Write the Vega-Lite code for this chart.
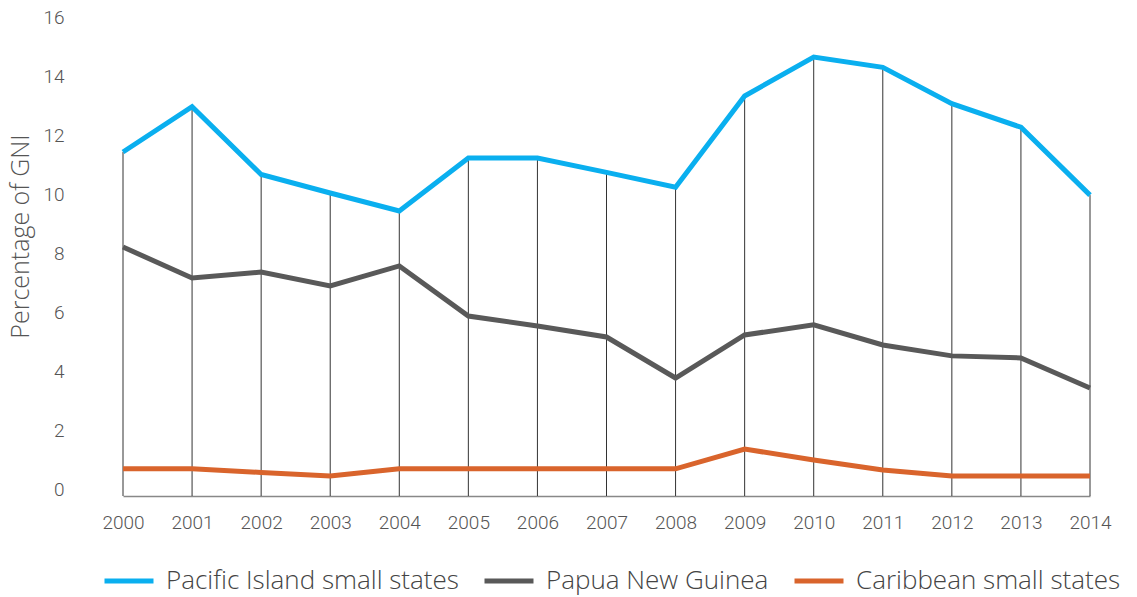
{
  "$schema": "https://vega.github.io/schema/vega-lite/v6.json",
  "width": 967,
  "height": 472,
  "autosize": {"type": "none"},
  "padding": {"left": 123, "top": 24, "right": 47, "bottom": 101},
  "background": "white",
  "config": {
    "view": {"stroke": null},
    "font": "Roboto",
    "axis": {"labelFont": "Roboto", "titleFont": "Open Sans", "labelColor": "#555555", "titleColor": "#555555", "labelFontWeight": 300, "titleFontWeight": 300},
    "legend": {"labelFont": "Open Sans", "labelColor": "#444444", "labelFontWeight": 300}
  },
  "data": {
    "values": [
      {"year": 2000, "series": "Pacific Island small states", "value": 11.66},
      {"year": 2001, "series": "Pacific Island small states", "value": 13.2},
      {"year": 2002, "series": "Pacific Island small states", "value": 10.9},
      {"year": 2003, "series": "Pacific Island small states", "value": 10.27},
      {"year": 2004, "series": "Pacific Island small states", "value": 9.66},
      {"year": 2005, "series": "Pacific Island small states", "value": 11.46},
      {"year": 2006, "series": "Pacific Island small states", "value": 11.46},
      {"year": 2007, "series": "Pacific Island small states", "value": 10.97},
      {"year": 2008, "series": "Pacific Island small states", "value": 10.47},
      {"year": 2009, "series": "Pacific Island small states", "value": 13.56},
      {"year": 2010, "series": "Pacific Island small states", "value": 14.88},
      {"year": 2011, "series": "Pacific Island small states", "value": 14.53},
      {"year": 2012, "series": "Pacific Island small states", "value": 13.3},
      {"year": 2013, "series": "Pacific Island small states", "value": 12.5},
      {"year": 2014, "series": "Pacific Island small states", "value": 10.2},
      {"year": 2000, "series": "Papua New Guinea", "value": 8.44},
      {"year": 2001, "series": "Papua New Guinea", "value": 7.39},
      {"year": 2002, "series": "Papua New Guinea", "value": 7.59},
      {"year": 2003, "series": "Papua New Guinea", "value": 7.12},
      {"year": 2004, "series": "Papua New Guinea", "value": 7.8},
      {"year": 2005, "series": "Papua New Guinea", "value": 6.1},
      {"year": 2006, "series": "Papua New Guinea", "value": 5.76},
      {"year": 2007, "series": "Papua New Guinea", "value": 5.39},
      {"year": 2008, "series": "Papua New Guinea", "value": 4.0},
      {"year": 2009, "series": "Papua New Guinea", "value": 5.46},
      {"year": 2010, "series": "Papua New Guinea", "value": 5.8},
      {"year": 2011, "series": "Papua New Guinea", "value": 5.12},
      {"year": 2012, "series": "Papua New Guinea", "value": 4.75},
      {"year": 2013, "series": "Papua New Guinea", "value": 4.68},
      {"year": 2014, "series": "Papua New Guinea", "value": 3.66},
      {"year": 2000, "series": "Caribbean small states", "value": 0.92},
      {"year": 2001, "series": "Caribbean small states", "value": 0.92},
      {"year": 2002, "series": "Caribbean small states", "value": 0.8},
      {"year": 2003, "series": "Caribbean small states", "value": 0.68},
      {"year": 2004, "series": "Caribbean small states", "value": 0.92},
      {"year": 2005, "series": "Caribbean small states", "value": 0.92},
      {"year": 2006, "series": "Caribbean small states", "value": 0.92},
      {"year": 2007, "series": "Caribbean small states", "value": 0.92},
      {"year": 2008, "series": "Caribbean small states", "value": 0.92},
      {"year": 2009, "series": "Caribbean small states", "value": 1.59},
      {"year": 2010, "series": "Caribbean small states", "value": 1.22},
      {"year": 2011, "series": "Caribbean small states", "value": 0.88},
      {"year": 2012, "series": "Caribbean small states", "value": 0.68},
      {"year": 2013, "series": "Caribbean small states", "value": 0.68},
      {"year": 2014, "series": "Caribbean small states", "value": 0.68}
    ]
  },
  "encoding": {
    "x": {
      "field": "year",
      "type": "quantitative",
      "scale": {"domain": [2000, 2014], "nice": false, "zero": false},
      "axis": {
        "title": null,
        "values": [2000, 2001, 2002, 2003, 2004, 2005, 2006, 2007, 2008, 2009, 2010, 2011, 2012, 2013, 2014],
        "format": "d",
        "grid": false,
        "ticks": false,
        "domain": true,
        "domainColor": "#888888",
        "domainWidth": 1.5,
        "labelFontSize": 19,
        "labelPadding": 17,
        "labelFlush": false
      }
    },
    "y": {
      "field": "value",
      "type": "quantitative",
      "scale": {"domain": [0, 16], "nice": false},
      "axis": {
        "title": "Percentage of GNI",
        "values": [0, 2, 4, 6, 8, 10, 12, 14, 16],
        "grid": false,
        "ticks": false,
        "domain": false,
        "labelFontSize": 19,
        "labelPadding": 59,
        "labelOffset": -7,
        "labelFlush": false,
        "titleFontSize": 25,
        "titleX": -103,
        "titleY": 212,
        "titleAngle": -90,
        "titleAlign": "center",
        "titleBaseline": "middle"
      }
    }
  },
  "layer": [
    {
      "transform": [{"filter": "datum.series === 'Pacific Island small states'"}],
      "mark": {"type": "rule", "color": "#333333", "strokeWidth": 1},
      "encoding": {
        "y2": {"datum": 0}
      }
    },
    {
      "mark": {"type": "line", "strokeWidth": 5, "strokeJoin": "miter"},
      "encoding": {
        "color": {
          "field": "series",
          "type": "nominal",
          "scale": {
            "domain": ["Pacific Island small states", "Papua New Guinea", "Caribbean small states"],
            "range": ["#0AAFEF", "#595959", "#D9642C"]
          },
          "legend": {
            "title": null,
            "orient": "none",
            "direction": "horizontal",
            "legendX": -21,
            "legendY": 530,
            "symbolType": "stroke",
            "symbolSize": 2400,
            "symbolStrokeWidth": 5,
            "labelFontSize": 26,
            "labelOffset": 10,
            "columnPadding": 15,
            "labelLimit": 400
          }
        }
      }
    }
  ]
}
